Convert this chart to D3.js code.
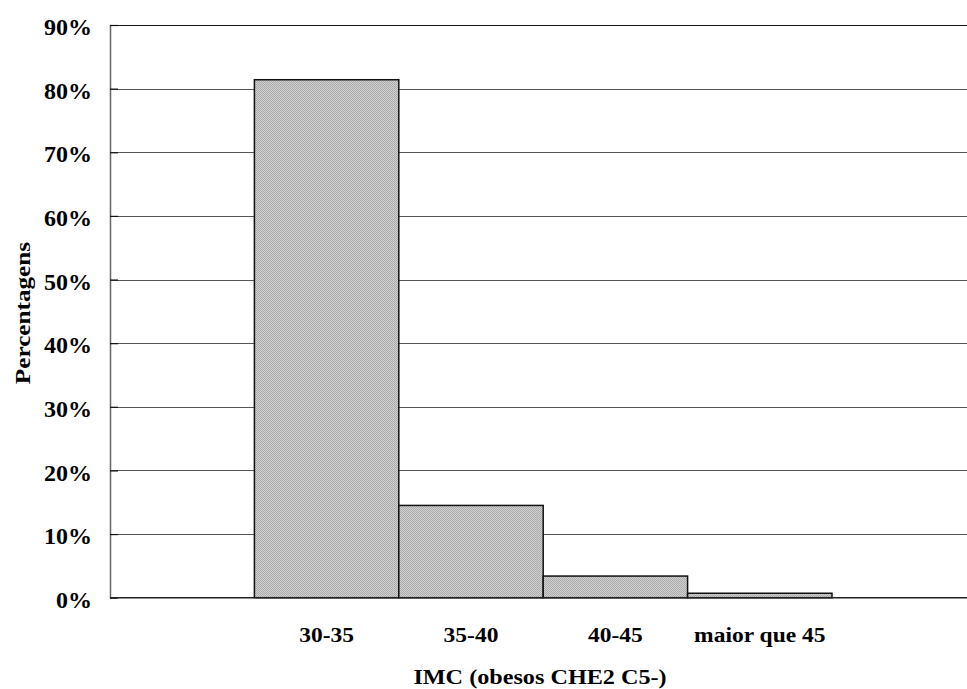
<!DOCTYPE html>
<html><head><meta charset="utf-8">
<script src="https://cdn.jsdelivr.net/npm/d3@7"></script>
<style>body{margin:0;background:#fff}svg{display:block}text{font-family:"Liberation Serif","Times New Roman",serif;font-weight:bold;fill:#000}</style>
</head><body><svg id="c" width="967" height="689"></svg>
<script>
const categories = ["", "30-35", "35-40", "40-45", "maior que 45", " "];
const values = [null, 81.4, 14.5, 3.4, 0.7, null];
const yTicks = [0, 10, 20, 30, 40, 50, 60, 70, 80, 90];
const xTitle = "IMC (obesos CHE2 C5-)";
const yTitle = "Percentagens";

(function () {
const svg = d3.select("#c");
const mLeft = 110, mTop = 25, mBottom = 597.7, bandW = 144.4;
const x = d3.scaleBand().domain(categories).range([mLeft, mLeft + bandW * categories.length]).padding(0);
const y = d3.scaleLinear().domain([0, 90]).range([mBottom, mTop]);

const defs = svg.append("defs");
const pat = defs.append("pattern").attr("id", "dith").attr("width", 2).attr("height", 2).attr("patternUnits", "userSpaceOnUse");
pat.append("rect").attr("width", 2).attr("height", 2).attr("fill", "#d0d0d0");
pat.append("rect").attr("x", 0).attr("y", 0).attr("width", 1).attr("height", 1).attr("fill", "#ababab");
pat.append("rect").attr("x", 1).attr("y", 1).attr("width", 1).attr("height", 1).attr("fill", "#ababab");

// gridlines
svg.append("g").selectAll("line").data(yTicks.filter(d => d > 0)).join("line")
  .attr("x1", mLeft).attr("x2", 967).attr("y1", d => Math.round(y(d)) + 0.5).attr("y2", d => Math.round(y(d)) + 0.5)
  .attr("stroke", d => d === 90 ? "#111" : "#555").attr("stroke-width", 1);

// bars
svg.append("g").selectAll("rect").data(categories.map((c, i) => ({c, v: values[i]})).filter(d => d.v != null)).join("rect")
  .attr("x", d => x(d.c)).attr("width", x.bandwidth())
  .attr("y", d => y(d.v)).attr("height", d => mBottom - y(d.v))
  .attr("fill", "url(#dith)").attr("stroke", "#111").attr("stroke-width", 1.5);

// y axis
const yAxis = d3.axisLeft(y).tickValues(yTicks).tickSize(0).tickPadding(0).tickFormat(d => d + "%");
const ga = svg.append("g").attr("transform", `translate(${mLeft},0)`).call(yAxis);
ga.select(".domain").attr("stroke", "#666").attr("stroke-width", 1.5);
ga.selectAll(".tick text").attr("x", -18).attr("dy", "0.4em").style("font-size", "24px").style("font-family", "Liberation Serif").style("font-weight", "bold");
ga.selectAll(".tick").append("line").attr("x1", 0).attr("x2", 8).attr("stroke", "#111").attr("stroke-width", 1.2);

// x baseline
svg.append("line").attr("x1", mLeft).attr("x2", 967).attr("y1", mBottom).attr("y2", mBottom).attr("stroke", "#222").attr("stroke-width", 1.5);

// x labels
svg.append("g").selectAll("text").data(categories.filter(c => c.trim() !== "")).join("text")
  .attr("transform", d => `translate(${x(d) + x.bandwidth() / 2},642) scale(1.12,1)`)
  .attr("text-anchor", "middle").style("font-size", "21px").text(d => d);

svg.append("text").attr("transform", `translate(540,684) scale(1.1,1)`).attr("text-anchor", "middle")
  .style("font-size", "22px").text(xTitle);

svg.append("text").attr("transform", `translate(30,313) rotate(-90) scale(1.2,1)`).attr("text-anchor", "middle")
  .style("font-size", "21px").text(yTitle);
})();
</script></body></html>
